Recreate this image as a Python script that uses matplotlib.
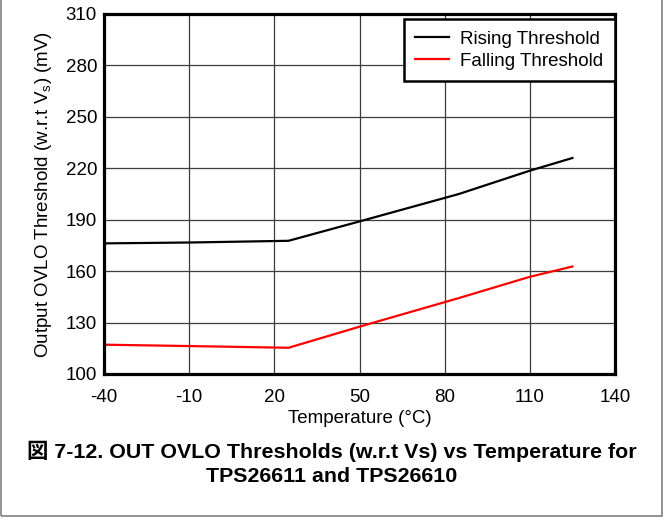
import matplotlib
matplotlib.use("Agg")
import matplotlib.pyplot as plt
from matplotlib.patches import Rectangle

# data
temp = [-40, -10, 25, 50, 85, 110, 125]
rising = [176.2, 176.7, 177.7, 189.0, 205.0, 218.6, 226.0]
falling = [117.1, 116.3, 115.3, 127.6, 144.3, 156.7, 162.7]

xticks = [-40, -10, 20, 50, 80, 110, 140]
yticks = [100, 130, 160, 190, 220, 250, 280, 310]

plt.rcParams['font.family'] = ['Liberation Sans', 'Noto Sans CJK JP', 'DejaVu Sans']
plt.rcParams['axes.unicode_minus'] = False

fig = plt.figure(figsize=(6.64, 5.21), dpi=100)
ax = fig.add_axes([104 / 664, 1 - 374 / 521, 511 / 664, 360 / 521])

ax.plot(temp, rising, color='black', lw=1.6, label='Rising Threshold')
ax.plot(temp, falling, color='#ff0000', lw=1.6, label='Falling Threshold')

ax.set_xlim(-40, 140)
ax.set_ylim(100, 310)
ax.set_xticks(xticks)
ax.set_yticks(yticks)
ax.tick_params(length=0, labelsize=13.5)
ax.tick_params(axis='x', pad=11)
ax.tick_params(axis='y', pad=5)
ax.grid(True, color='#3c3c3c', lw=0.9)
ax.set_axisbelow(True)
for s in ax.spines.values():
    s.set_linewidth(2.3)

ax.set_xlabel('Temperature (\u00b0C)', fontsize=13.5, labelpad=3)
ax.set_ylabel('Output OVLO Threshold (w.r.t V$_{\\mathregular{s}}$) (mV)', fontsize=13.5, labelpad=8)

leg = ax.legend(loc='upper right', bbox_to_anchor=(1.0, 0.986), borderaxespad=0,
                fontsize=13.5, handlelength=1.8, handletextpad=0.6,
                labelspacing=0.25, borderpad=0.62, fancybox=False, framealpha=1)
leg.get_frame().set_edgecolor('black')
leg.get_frame().set_linewidth(1.8)

fig.text(0.5, 1 - 451 / 521, '\u56f3 7-12. OUT OVLO Thresholds (w.r.t Vs) vs Temperature for',
         ha='center', va='center', fontsize=15.4, fontweight='bold')
fig.text(0.5, 1 - 476 / 521, 'TPS26611 and TPS26610',
         ha='center', va='center', fontsize=15.4, fontweight='bold')

# outer frame of the figure
fig.patches.append(Rectangle((1 / 664, 1 - 516 / 521), 661 / 664, 530 / 521,
                             transform=fig.transFigure, fill=False,
                             edgecolor='#808080', lw=1.2))

fig.savefig('out.png', dpi=100)
